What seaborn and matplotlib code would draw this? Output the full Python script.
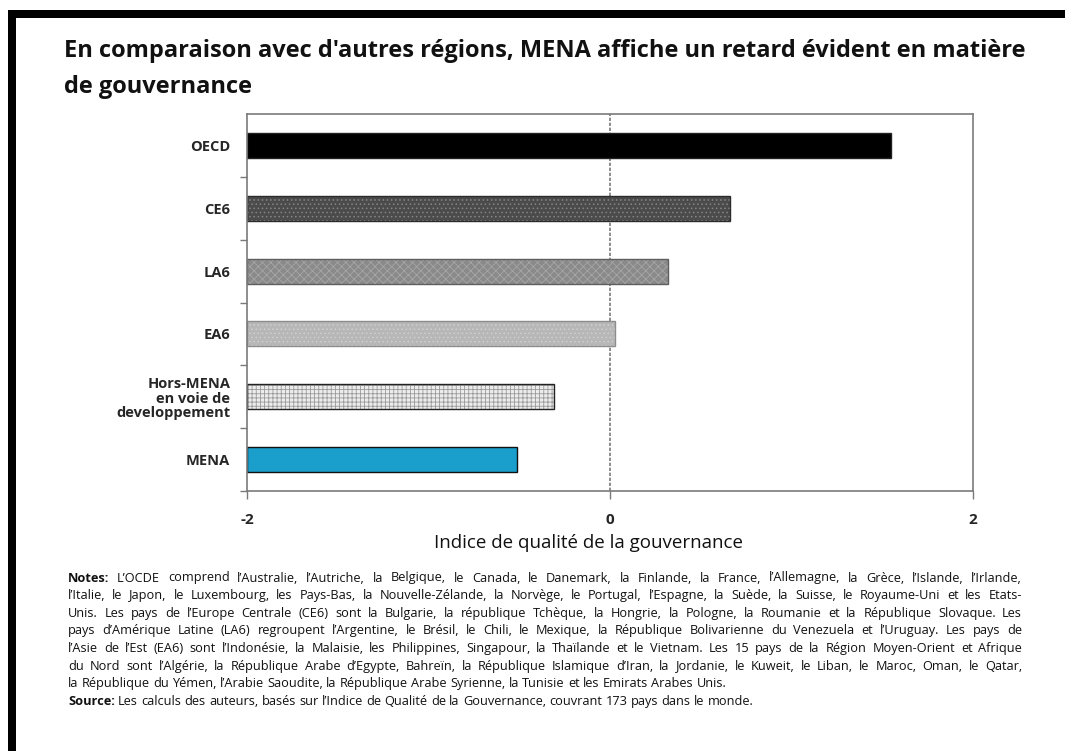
import matplotlib
matplotlib.use("Agg")
import matplotlib.pyplot as plt
import matplotlib.patches as mpatches
import pandas as pd
import seaborn as sns

# data
regions = ["OECD", "CE6", "LA6", "EA6", "Hors-MENA\nen voie de\ndeveloppement", "MENA"]
governance_index = [1.55, 0.66, 0.32, 0.03, -0.31, -0.51]
bar_colors = ["#000000", "#4b4b4b", "#8a8a8a", "#b7b7b7", "#ececec", "#1a9ecb"]
bar_hatches = [None, "....", "xxxx", "....", "++++", None]
hatch_colors = [None, "#858585", "#a6a6a6", "#cfcfcf", "#9a9a9a", None]
edge_colors = ["#222222", "#2b2b2b", "#5e5e5e", "#8d8d8d", "#222222", "#111111"]
xticks = [-2, 0, 2]

title_lines = ["En comparaison avec d'autres régions, MENA affiche un retard évident en matière",
               "de gouvernance"]
xlabel = "Indice de qualité de la gouvernance"

notes_lines = [
    ("Notes:", "L’OCDE comprend l’Australie, l’Autriche, la Belgique, le Canada, le Danemark, la Finlande, la France, l’Allemagne, la Grèce, l’Islande, l’Irlande,", True),
    ("", "l’Italie, le Japon, le Luxembourg, les Pays-Bas, la Nouvelle-Zélande, la Norvège, le Portugal, l’Espagne, la Suède, la Suisse, le Royaume-Uni et les Etats-", True),
    ("", "Unis. Les pays de l’Europe Centrale (CE6) sont la Bulgarie, la république Tchèque, la Hongrie, la Pologne, la Roumanie et la République Slovaque. Les", True),
    ("", "pays d’Amérique Latine (LA6) regroupent l’Argentine, le Brésil, le Chili, le Mexique, la République Bolivarienne du Venezuela et l’Uruguay. Les pays de", True),
    ("", "l’Asie de l’Est (EA6) sont l’Indonésie, la Malaisie, les Philippines, Singapour, la Thaïlande et le Vietnam. Les 15 pays de la Région Moyen-Orient et Afrique", True),
    ("", "du Nord sont l’Algérie, la République Arabe d’Egypte, Bahreïn, la République Islamique d’Iran, la Jordanie, le Kuweit, le Liban, le Maroc, Oman, le Qatar,", True),
    ("", "la République du Yémen, l’Arabie Saoudite, la République Arabe Syrienne, la Tunisie et les Emirats Arabes Unis.", False),
    ("Source:", "Les calculs des auteurs, basés sur l’Indice de Qualité de la Gouvernance, couvrant 173 pays dans le monde.", False),
]

W, H = 1065, 751
XMIN, XMAX = -2, 2

sns.set_style("white")
plt.rcParams["font.family"] = ["Open Sans", "DejaVu Sans"]
plt.rcParams["hatch.linewidth"] = 0.6

df = pd.DataFrame({"region": regions, "value": governance_index})

fig = plt.figure(figsize=(W / 100, H / 100), dpi=100)
fig.patch.set_facecolor("white")

# black frame (top + left only)
fig.patches.append(mpatches.Rectangle((8 / W, 1 - 18 / H), 1, 8 / H, transform=fig.transFigure,
                                      facecolor="black", edgecolor="none", zorder=0))
fig.patches.append(mpatches.Rectangle((8 / W, 0), 8 / W, 1 - 10 / H, transform=fig.transFigure,
                                      facecolor="black", edgecolor="none", zorder=0))

ax = fig.add_axes([247 / W, 1 - 491 / H, (973 - 247) / W, (491 - 114) / H])

sns.barplot(data=df, y="region", x="value", hue="region", palette=bar_colors,
            order=regions, hue_order=regions, legend=False, width=0.4, saturation=1,
            orient="h", ax=ax, linewidth=1)

# bars start from the left edge of the axis (category axis crosses at -2)
for patch, val, hatch, hc, ec in zip(ax.patches, governance_index, bar_hatches, hatch_colors, edge_colors):
    patch.set_x(XMIN)
    patch.set_width(val - XMIN)
    patch.set_edgecolor(ec)
    if hatch:
        patch.set_hatch(hatch)
        patch._hatch_color = matplotlib.colors.to_rgba(hc)

ax.set_xlim(XMIN, XMAX)
ax.set_ylim(len(regions) - 0.5, -0.5)
ax.set_xticks(xticks)
ax.set_xticklabels([str(t) for t in xticks], fontsize=11, fontweight="bold")
ax.set_yticks(range(len(regions)))
ax.set_yticklabels(regions, fontsize=10.5, fontweight="bold", linespacing=1.05)
ax.set_yticks([i + 0.5 for i in range(len(regions))], minor=True)
ax.tick_params(axis="y", which="major", length=0, pad=12)
ax.tick_params(axis="y", which="minor", length=5, width=1, color="#7a7a7a", direction="out", left=True)
ax.tick_params(axis="x", which="major", length=6, width=1, color="#7a7a7a", direction="out",
               bottom=True, pad=10)
ax.set_xlabel("")
ax.set_ylabel("")

for side in ["left", "bottom", "top", "right"]:
    ax.spines[side].set_color("#7a7a7a")
    ax.spines[side].set_linewidth(1.2)
    ax.spines[side].set_visible(True)
ax.spines["top"].set_linestyle((0, (2, 1)))
ax.spines["right"].set_linestyle((0, (2, 1)))
ax.axvline(0, color="#7a7a7a", linewidth=1.2, linestyle=(0, (2, 1)), zorder=0)

for i, line in enumerate(title_lines):
    fig.text(64 / W, 1 - (51 + 36 * i) / H, line, fontsize=17, fontweight="bold",
             va="center", ha="left", color="#111111")
fig.text(588 / W, 1 - 543 / H, xlabel, fontsize=13.5, ha="center", va="center", color="#111111")

# notes, justified line by line
renderer = fig.canvas.get_renderer()
left_px, right_px = 68, 1022
y_px = 578
line_h = 17.6
fs = 9.2
for prefix, body, justify in notes_lines:
    words = []
    if prefix:
        words.append((prefix, "bold"))
    words += [(w, "normal") for w in body.split(" ")]
    texts = []
    for w, wt in words:
        t = fig.text(0, 1 - y_px / H, w, fontsize=fs, fontweight=wt, va="center", ha="left", color="#111111")
        texts.append(t)
    widths = [t.get_window_extent(renderer).width for t in texts]
    if justify and len(texts) > 1:
        gap = (right_px - left_px - sum(widths)) / (len(texts) - 1)
    else:
        gap = fs * 100 / 72 * 0.26
    x = left_px
    for t, w in zip(texts, widths):
        t.set_x(x / W)
        x += w + gap
    y_px += line_h

fig.savefig("out.png", dpi=100)
